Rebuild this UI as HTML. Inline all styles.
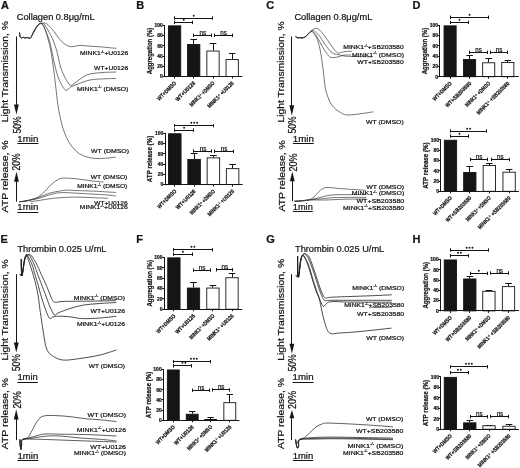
<!DOCTYPE html>
<html><head><meta charset="utf-8"><style>
html,body{margin:0;padding:0;background:#fff;}
svg{display:block;will-change:transform;}
text{font-family:"Liberation Sans", sans-serif;fill:#141414;stroke:#141414;stroke-width:0.22px;}
</style></head><body>
<svg width="520" height="468" viewBox="0 0 520 468">
<rect width="520" height="468" fill="#fff"/>
<rect x="168.45" y="25.85" width="12.3" height="50.65" fill="#151515" stroke="#141414" stroke-width="0.9"/>
<line x1="193.5" y1="44" x2="193.5" y2="39.71" stroke="#141414" stroke-width="1.0"/>
<line x1="190.4" y1="39.5" x2="197" y2="39.5" stroke="#141414" stroke-width="1.0"/>
<rect x="187.55" y="44.45" width="12.3" height="32.05" fill="#151515" stroke="#141414" stroke-width="0.9"/>
<line x1="213.5" y1="50.59" x2="213.5" y2="43.28" stroke="#141414" stroke-width="1.0"/>
<line x1="209.7" y1="43.5" x2="216.3" y2="43.5" stroke="#141414" stroke-width="1.0"/>
<rect x="206.85" y="51.04" width="12.3" height="25.46" fill="#fff" stroke="#141414" stroke-width="0.9"/>
<line x1="232.5" y1="59.13" x2="232.5" y2="53.5" stroke="#141414" stroke-width="1.0"/>
<line x1="228.9" y1="53.5" x2="235.5" y2="53.5" stroke="#141414" stroke-width="1.0"/>
<rect x="226.05" y="59.58" width="12.3" height="16.92" fill="#fff" stroke="#141414" stroke-width="0.9"/>
<line x1="164.5" y1="25" x2="164.5" y2="76.95" stroke="#141414" stroke-width="1.0"/>
<line x1="164.15" y1="76.5" x2="242.4" y2="76.5" stroke="#141414" stroke-width="1.0"/>
<line x1="162.6" y1="76.5" x2="164.6" y2="76.5" stroke="#141414" stroke-width="1.0"/>
<text x="162.8" y="78.3" font-size="5.0" font-weight="bold" text-anchor="end">0</text>
<line x1="162.6" y1="66.5" x2="164.6" y2="66.5" stroke="#141414" stroke-width="1.0"/>
<text x="162.8" y="68.08" font-size="5.0" font-weight="bold" text-anchor="end">20</text>
<line x1="162.6" y1="56.5" x2="164.6" y2="56.5" stroke="#141414" stroke-width="1.0"/>
<text x="162.8" y="57.86" font-size="5.0" font-weight="bold" text-anchor="end">40</text>
<line x1="162.6" y1="45.5" x2="164.6" y2="45.5" stroke="#141414" stroke-width="1.0"/>
<text x="162.8" y="47.64" font-size="5.0" font-weight="bold" text-anchor="end">60</text>
<line x1="162.6" y1="35.5" x2="164.6" y2="35.5" stroke="#141414" stroke-width="1.0"/>
<text x="162.8" y="37.42" font-size="5.0" font-weight="bold" text-anchor="end">80</text>
<line x1="162.6" y1="25.5" x2="164.6" y2="25.5" stroke="#141414" stroke-width="1.0"/>
<text x="162.8" y="27.2" font-size="5.0" font-weight="bold" text-anchor="end">100</text>
<line x1="174.5" y1="76.5" x2="174.5" y2="78.5" stroke="#141414" stroke-width="1.0"/>
<line x1="193.5" y1="76.5" x2="193.5" y2="78.5" stroke="#141414" stroke-width="1.0"/>
<line x1="213.5" y1="76.5" x2="213.5" y2="78.5" stroke="#141414" stroke-width="1.0"/>
<line x1="232.5" y1="76.5" x2="232.5" y2="78.5" stroke="#141414" stroke-width="1.0"/>
<text x="152" y="74.2" font-size="6.6" font-weight="bold" textLength="46.5" lengthAdjust="spacingAndGlyphs" transform="rotate(-90 152 74.2)">Aggregation (%)</text>
<text x="176.6" y="83.6" font-size="5.6" font-weight="bold" text-anchor="end" textLength="24.5" lengthAdjust="spacingAndGlyphs" transform="rotate(-45 176.6 83.6)">WT+DMSO</text>
<text x="195.7" y="83.6" font-size="5.6" font-weight="bold" text-anchor="end" textLength="25.5" lengthAdjust="spacingAndGlyphs" transform="rotate(-45 195.7 83.6)">WT+U0126</text>
<text x="215" y="83.6" font-size="5.6" font-weight="bold" text-anchor="end" textLength="33" lengthAdjust="spacingAndGlyphs" transform="rotate(-45 215 83.6)">MINK1<tspan font-size="3" dy="-1.6">-/-</tspan><tspan dy="1.6"> </tspan>+DMSO</text>
<text x="234.2" y="83.6" font-size="5.6" font-weight="bold" text-anchor="end" textLength="35" lengthAdjust="spacingAndGlyphs" transform="rotate(-45 234.2 83.6)">MINK1<tspan font-size="3" dy="-1.6">-/-</tspan><tspan dy="1.6"> </tspan>+U0126</text>
<line x1="174.6" y1="22.5" x2="192.9" y2="22.5" stroke="#141414" stroke-width="1.0"/>
<line x1="174.5" y1="20.7" x2="174.5" y2="24.1" stroke="#141414" stroke-width="1.0"/>
<line x1="192.5" y1="20.7" x2="192.5" y2="24.1" stroke="#141414" stroke-width="1.0"/>
<circle cx="183.75" cy="19.8" r="0.95" fill="#141414"/>
<line x1="174.6" y1="18.5" x2="212.8" y2="18.5" stroke="#141414" stroke-width="1.0"/>
<line x1="174.5" y1="16.3" x2="174.5" y2="19.7" stroke="#141414" stroke-width="1.0"/>
<line x1="212.5" y1="16.3" x2="212.5" y2="19.7" stroke="#141414" stroke-width="1.0"/>
<circle cx="193.7" cy="15.8" r="0.95" fill="#141414"/>
<line x1="193.9" y1="35.5" x2="211.2" y2="35.5" stroke="#141414" stroke-width="1.0"/>
<line x1="193.5" y1="33.6" x2="193.5" y2="37" stroke="#141414" stroke-width="1.0"/>
<line x1="211.5" y1="33.6" x2="211.5" y2="37" stroke="#141414" stroke-width="1.0"/>
<text x="202.75" y="34.8" font-size="6.6" text-anchor="middle" textLength="6.6" lengthAdjust="spacingAndGlyphs">ns</text>
<line x1="214.4" y1="35.5" x2="232.3" y2="35.5" stroke="#141414" stroke-width="1.0"/>
<line x1="214.5" y1="33.6" x2="214.5" y2="37" stroke="#141414" stroke-width="1.0"/>
<line x1="232.5" y1="33.6" x2="232.5" y2="37" stroke="#141414" stroke-width="1.0"/>
<text x="223.55" y="34.8" font-size="6.6" text-anchor="middle" textLength="6.6" lengthAdjust="spacingAndGlyphs">ns</text>
<rect x="168.55" y="133.75" width="12.5" height="50.85" fill="#151515" stroke="#141414" stroke-width="0.9"/>
<line x1="194.5" y1="158.95" x2="194.5" y2="153.82" stroke="#141414" stroke-width="1.0"/>
<line x1="190.75" y1="153.5" x2="197.45" y2="153.5" stroke="#141414" stroke-width="1.0"/>
<rect x="187.85" y="159.4" width="12.5" height="25.2" fill="#151515" stroke="#141414" stroke-width="0.9"/>
<line x1="213.5" y1="157.41" x2="213.5" y2="155.87" stroke="#141414" stroke-width="1.0"/>
<line x1="210.05" y1="155.5" x2="216.75" y2="155.5" stroke="#141414" stroke-width="1.0"/>
<rect x="207.15" y="157.86" width="12.5" height="26.74" fill="#fff" stroke="#141414" stroke-width="0.9"/>
<line x1="232.5" y1="168.18" x2="232.5" y2="164.08" stroke="#141414" stroke-width="1.0"/>
<line x1="229.25" y1="164.5" x2="235.95" y2="164.5" stroke="#141414" stroke-width="1.0"/>
<rect x="226.35" y="168.63" width="12.5" height="15.97" fill="#fff" stroke="#141414" stroke-width="0.9"/>
<line x1="165.5" y1="132.9" x2="165.5" y2="185.05" stroke="#141414" stroke-width="1.0"/>
<line x1="164.65" y1="184.5" x2="242.6" y2="184.5" stroke="#141414" stroke-width="1.0"/>
<line x1="163.1" y1="184.5" x2="165.1" y2="184.5" stroke="#141414" stroke-width="1.0"/>
<text x="163.3" y="186.4" font-size="5.0" font-weight="bold" text-anchor="end">0</text>
<line x1="163.1" y1="174.5" x2="165.1" y2="174.5" stroke="#141414" stroke-width="1.0"/>
<text x="163.3" y="176.14" font-size="5.0" font-weight="bold" text-anchor="end">20</text>
<line x1="163.1" y1="164.5" x2="165.1" y2="164.5" stroke="#141414" stroke-width="1.0"/>
<text x="163.3" y="165.88" font-size="5.0" font-weight="bold" text-anchor="end">40</text>
<line x1="163.1" y1="153.5" x2="165.1" y2="153.5" stroke="#141414" stroke-width="1.0"/>
<text x="163.3" y="155.62" font-size="5.0" font-weight="bold" text-anchor="end">60</text>
<line x1="163.1" y1="143.5" x2="165.1" y2="143.5" stroke="#141414" stroke-width="1.0"/>
<text x="163.3" y="145.36" font-size="5.0" font-weight="bold" text-anchor="end">80</text>
<line x1="163.1" y1="133.5" x2="165.1" y2="133.5" stroke="#141414" stroke-width="1.0"/>
<text x="163.3" y="135.1" font-size="5.0" font-weight="bold" text-anchor="end">100</text>
<line x1="174.5" y1="184.6" x2="174.5" y2="186.6" stroke="#141414" stroke-width="1.0"/>
<line x1="194.5" y1="184.6" x2="194.5" y2="186.6" stroke="#141414" stroke-width="1.0"/>
<line x1="213.5" y1="184.6" x2="213.5" y2="186.6" stroke="#141414" stroke-width="1.0"/>
<line x1="232.5" y1="184.6" x2="232.5" y2="186.6" stroke="#141414" stroke-width="1.0"/>
<text x="152.5" y="182.2" font-size="6.6" font-weight="bold" textLength="46.5" lengthAdjust="spacingAndGlyphs" transform="rotate(-90 152.5 182.2)">ATP release (%)</text>
<text x="176.8" y="191.7" font-size="5.6" font-weight="bold" text-anchor="end" textLength="24.5" lengthAdjust="spacingAndGlyphs" transform="rotate(-45 176.8 191.7)">WT+DMSO</text>
<text x="196.1" y="191.7" font-size="5.6" font-weight="bold" text-anchor="end" textLength="25.5" lengthAdjust="spacingAndGlyphs" transform="rotate(-45 196.1 191.7)">WT+U0126</text>
<text x="215.4" y="191.7" font-size="5.6" font-weight="bold" text-anchor="end" textLength="33" lengthAdjust="spacingAndGlyphs" transform="rotate(-45 215.4 191.7)">MINK1<tspan font-size="3" dy="-1.6">-/-</tspan><tspan dy="1.6"> </tspan>+DMSO</text>
<text x="234.6" y="191.7" font-size="5.6" font-weight="bold" text-anchor="end" textLength="35" lengthAdjust="spacingAndGlyphs" transform="rotate(-45 234.6 191.7)">MINK1<tspan font-size="3" dy="-1.6">-/-</tspan><tspan dy="1.6"> </tspan>+U0126</text>
<line x1="174.9" y1="130.5" x2="193.3" y2="130.5" stroke="#141414" stroke-width="1.0"/>
<line x1="174.5" y1="128.4" x2="174.5" y2="131.8" stroke="#141414" stroke-width="1.0"/>
<line x1="193.5" y1="128.4" x2="193.5" y2="131.8" stroke="#141414" stroke-width="1.0"/>
<circle cx="184.1" cy="127.8" r="0.95" fill="#141414"/>
<line x1="174.9" y1="125.5" x2="213.5" y2="125.5" stroke="#141414" stroke-width="1.0"/>
<line x1="174.5" y1="124" x2="174.5" y2="127.4" stroke="#141414" stroke-width="1.0"/>
<line x1="213.5" y1="124" x2="213.5" y2="127.4" stroke="#141414" stroke-width="1.0"/>
<circle cx="191.3" cy="122.8" r="0.95" fill="#141414"/>
<circle cx="194.2" cy="122.8" r="0.95" fill="#141414"/>
<circle cx="197.1" cy="122.8" r="0.95" fill="#141414"/>
<line x1="193.8" y1="151.5" x2="211.9" y2="151.5" stroke="#141414" stroke-width="1.0"/>
<line x1="193.5" y1="149.3" x2="193.5" y2="152.7" stroke="#141414" stroke-width="1.0"/>
<line x1="211.5" y1="149.3" x2="211.5" y2="152.7" stroke="#141414" stroke-width="1.0"/>
<text x="203.05" y="150.8" font-size="6.6" text-anchor="middle" textLength="6.6" lengthAdjust="spacingAndGlyphs">ns</text>
<line x1="214.6" y1="151.5" x2="233" y2="151.5" stroke="#141414" stroke-width="1.0"/>
<line x1="214.5" y1="149.7" x2="214.5" y2="153.1" stroke="#141414" stroke-width="1.0"/>
<line x1="233.5" y1="149.7" x2="233.5" y2="153.1" stroke="#141414" stroke-width="1.0"/>
<text x="224" y="150.8" font-size="6.6" text-anchor="middle" textLength="6.6" lengthAdjust="spacingAndGlyphs">ns</text>
<rect x="444.05" y="25.85" width="12.1" height="50.85" fill="#151515" stroke="#141414" stroke-width="0.9"/>
<line x1="469.5" y1="59" x2="469.5" y2="55.92" stroke="#141414" stroke-width="1.0"/>
<line x1="466.35" y1="55.5" x2="472.85" y2="55.5" stroke="#141414" stroke-width="1.0"/>
<rect x="463.55" y="59.45" width="12.1" height="17.25" fill="#151515" stroke="#141414" stroke-width="0.9"/>
<line x1="488.5" y1="62.34" x2="488.5" y2="58.49" stroke="#141414" stroke-width="1.0"/>
<line x1="485.45" y1="58.5" x2="491.95" y2="58.5" stroke="#141414" stroke-width="1.0"/>
<rect x="482.65" y="62.79" width="12.1" height="13.91" fill="#fff" stroke="#141414" stroke-width="0.9"/>
<line x1="507.5" y1="61.98" x2="507.5" y2="60.49" stroke="#141414" stroke-width="1.0"/>
<line x1="504.55" y1="60.5" x2="511.05" y2="60.5" stroke="#141414" stroke-width="1.0"/>
<rect x="501.75" y="62.43" width="12.1" height="14.27" fill="#fff" stroke="#141414" stroke-width="0.9"/>
<line x1="439.5" y1="25" x2="439.5" y2="77.15" stroke="#141414" stroke-width="1.0"/>
<line x1="439.45" y1="76.5" x2="518.8" y2="76.5" stroke="#141414" stroke-width="1.0"/>
<line x1="437.9" y1="76.5" x2="439.9" y2="76.5" stroke="#141414" stroke-width="1.0"/>
<text x="438.1" y="78.5" font-size="5.0" font-weight="bold" text-anchor="end">0</text>
<line x1="437.9" y1="66.5" x2="439.9" y2="66.5" stroke="#141414" stroke-width="1.0"/>
<text x="438.1" y="68.24" font-size="5.0" font-weight="bold" text-anchor="end">20</text>
<line x1="437.9" y1="56.5" x2="439.9" y2="56.5" stroke="#141414" stroke-width="1.0"/>
<text x="438.1" y="57.98" font-size="5.0" font-weight="bold" text-anchor="end">40</text>
<line x1="437.9" y1="45.5" x2="439.9" y2="45.5" stroke="#141414" stroke-width="1.0"/>
<text x="438.1" y="47.72" font-size="5.0" font-weight="bold" text-anchor="end">60</text>
<line x1="437.9" y1="35.5" x2="439.9" y2="35.5" stroke="#141414" stroke-width="1.0"/>
<text x="438.1" y="37.46" font-size="5.0" font-weight="bold" text-anchor="end">80</text>
<line x1="437.9" y1="25.5" x2="439.9" y2="25.5" stroke="#141414" stroke-width="1.0"/>
<text x="438.1" y="27.2" font-size="5.0" font-weight="bold" text-anchor="end">100</text>
<line x1="450.5" y1="76.7" x2="450.5" y2="78.7" stroke="#141414" stroke-width="1.0"/>
<line x1="469.5" y1="76.7" x2="469.5" y2="78.7" stroke="#141414" stroke-width="1.0"/>
<line x1="488.5" y1="76.7" x2="488.5" y2="78.7" stroke="#141414" stroke-width="1.0"/>
<line x1="507.5" y1="76.7" x2="507.5" y2="78.7" stroke="#141414" stroke-width="1.0"/>
<text x="427.3" y="74.3" font-size="6.6" font-weight="bold" textLength="46.5" lengthAdjust="spacingAndGlyphs" transform="rotate(-90 427.3 74.3)">Aggregation (%)</text>
<text x="452.1" y="83.8" font-size="5.6" font-weight="bold" text-anchor="end" textLength="24.5" lengthAdjust="spacingAndGlyphs" transform="rotate(-45 452.1 83.8)">WT+DMSO</text>
<text x="471.6" y="83.8" font-size="5.6" font-weight="bold" text-anchor="end" textLength="34" lengthAdjust="spacingAndGlyphs" transform="rotate(-45 471.6 83.8)">WT+SB203580</text>
<text x="490.7" y="83.8" font-size="5.6" font-weight="bold" text-anchor="end" textLength="33" lengthAdjust="spacingAndGlyphs" transform="rotate(-45 490.7 83.8)">MINK1<tspan font-size="3" dy="-1.6">-/-</tspan><tspan dy="1.6"> </tspan>+DMSO</text>
<text x="509.8" y="83.8" font-size="5.6" font-weight="bold" text-anchor="end" textLength="44" lengthAdjust="spacingAndGlyphs" transform="rotate(-45 509.8 83.8)">MINK1<tspan font-size="3" dy="-1.6">-/-</tspan><tspan dy="1.6"> </tspan>+SB203580</text>
<line x1="450.5" y1="22.5" x2="468.5" y2="22.5" stroke="#141414" stroke-width="1.0"/>
<line x1="450.5" y1="20.7" x2="450.5" y2="24.1" stroke="#141414" stroke-width="1.0"/>
<line x1="468.5" y1="20.7" x2="468.5" y2="24.1" stroke="#141414" stroke-width="1.0"/>
<circle cx="459.5" cy="19.8" r="0.95" fill="#141414"/>
<line x1="450.5" y1="17.5" x2="488.6" y2="17.5" stroke="#141414" stroke-width="1.0"/>
<line x1="450.5" y1="15.6" x2="450.5" y2="19" stroke="#141414" stroke-width="1.0"/>
<line x1="488.5" y1="15.6" x2="488.5" y2="19" stroke="#141414" stroke-width="1.0"/>
<circle cx="469.55" cy="14.8" r="0.95" fill="#141414"/>
<line x1="469.7" y1="52.5" x2="487" y2="52.5" stroke="#141414" stroke-width="1.0"/>
<line x1="469.5" y1="50.6" x2="469.5" y2="54" stroke="#141414" stroke-width="1.0"/>
<line x1="487.5" y1="50.6" x2="487.5" y2="54" stroke="#141414" stroke-width="1.0"/>
<text x="478.55" y="51.8" font-size="6.6" text-anchor="middle" textLength="6.6" lengthAdjust="spacingAndGlyphs">ns</text>
<line x1="490.3" y1="52.5" x2="507.6" y2="52.5" stroke="#141414" stroke-width="1.0"/>
<line x1="490.5" y1="50.6" x2="490.5" y2="54" stroke="#141414" stroke-width="1.0"/>
<line x1="507.5" y1="50.6" x2="507.5" y2="54" stroke="#141414" stroke-width="1.0"/>
<text x="499.15" y="51.8" font-size="6.6" text-anchor="middle" textLength="6.6" lengthAdjust="spacingAndGlyphs">ns</text>
<rect x="444.35" y="140.25" width="12.3" height="51.05" fill="#151515" stroke="#141414" stroke-width="0.9"/>
<line x1="469.5" y1="171.99" x2="469.5" y2="166.22" stroke="#141414" stroke-width="1.0"/>
<line x1="466.5" y1="166.5" x2="473.1" y2="166.5" stroke="#141414" stroke-width="1.0"/>
<rect x="463.65" y="172.44" width="12.3" height="18.86" fill="#151515" stroke="#141414" stroke-width="0.9"/>
<line x1="489.5" y1="165.09" x2="489.5" y2="163.59" stroke="#141414" stroke-width="1.0"/>
<line x1="486" y1="163.5" x2="492.6" y2="163.5" stroke="#141414" stroke-width="1.0"/>
<rect x="483.15" y="165.54" width="12.3" height="25.76" fill="#fff" stroke="#141414" stroke-width="0.9"/>
<line x1="509.5" y1="171.73" x2="509.5" y2="169.88" stroke="#141414" stroke-width="1.0"/>
<line x1="505.8" y1="169.5" x2="512.4" y2="169.5" stroke="#141414" stroke-width="1.0"/>
<rect x="502.95" y="172.18" width="12.3" height="19.12" fill="#fff" stroke="#141414" stroke-width="0.9"/>
<line x1="440.5" y1="139.4" x2="440.5" y2="191.75" stroke="#141414" stroke-width="1.0"/>
<line x1="440.45" y1="191.5" x2="518.8" y2="191.5" stroke="#141414" stroke-width="1.0"/>
<line x1="438.9" y1="191.5" x2="440.9" y2="191.5" stroke="#141414" stroke-width="1.0"/>
<text x="439.1" y="193.1" font-size="5.0" font-weight="bold" text-anchor="end">0</text>
<line x1="438.9" y1="181.5" x2="440.9" y2="181.5" stroke="#141414" stroke-width="1.0"/>
<text x="439.1" y="182.8" font-size="5.0" font-weight="bold" text-anchor="end">20</text>
<line x1="438.9" y1="170.5" x2="440.9" y2="170.5" stroke="#141414" stroke-width="1.0"/>
<text x="439.1" y="172.5" font-size="5.0" font-weight="bold" text-anchor="end">40</text>
<line x1="438.9" y1="160.5" x2="440.9" y2="160.5" stroke="#141414" stroke-width="1.0"/>
<text x="439.1" y="162.2" font-size="5.0" font-weight="bold" text-anchor="end">60</text>
<line x1="438.9" y1="150.5" x2="440.9" y2="150.5" stroke="#141414" stroke-width="1.0"/>
<text x="439.1" y="151.9" font-size="5.0" font-weight="bold" text-anchor="end">80</text>
<line x1="438.9" y1="139.5" x2="440.9" y2="139.5" stroke="#141414" stroke-width="1.0"/>
<text x="439.1" y="141.6" font-size="5.0" font-weight="bold" text-anchor="end">100</text>
<line x1="450.5" y1="191.3" x2="450.5" y2="193.3" stroke="#141414" stroke-width="1.0"/>
<line x1="469.5" y1="191.3" x2="469.5" y2="193.3" stroke="#141414" stroke-width="1.0"/>
<line x1="489.5" y1="191.3" x2="489.5" y2="193.3" stroke="#141414" stroke-width="1.0"/>
<line x1="509.5" y1="191.3" x2="509.5" y2="193.3" stroke="#141414" stroke-width="1.0"/>
<text x="428.3" y="188.8" font-size="6.6" font-weight="bold" textLength="46.5" lengthAdjust="spacingAndGlyphs" transform="rotate(-90 428.3 188.8)">ATP release (%)</text>
<text x="452.5" y="198.4" font-size="5.6" font-weight="bold" text-anchor="end" textLength="24.5" lengthAdjust="spacingAndGlyphs" transform="rotate(-45 452.5 198.4)">WT+DMSO</text>
<text x="471.8" y="198.4" font-size="5.6" font-weight="bold" text-anchor="end" textLength="34" lengthAdjust="spacingAndGlyphs" transform="rotate(-45 471.8 198.4)">WT+SB203580</text>
<text x="491.3" y="198.4" font-size="5.6" font-weight="bold" text-anchor="end" textLength="33" lengthAdjust="spacingAndGlyphs" transform="rotate(-45 491.3 198.4)">MINK1<tspan font-size="3" dy="-1.6">-/-</tspan><tspan dy="1.6"> </tspan>+DMSO</text>
<text x="511.1" y="198.4" font-size="5.6" font-weight="bold" text-anchor="end" textLength="44" lengthAdjust="spacingAndGlyphs" transform="rotate(-45 511.1 198.4)">MINK1<tspan font-size="3" dy="-1.6">-/-</tspan><tspan dy="1.6"> </tspan>+SB203580</text>
<line x1="450.5" y1="136.5" x2="468.4" y2="136.5" stroke="#141414" stroke-width="1.0"/>
<line x1="450.5" y1="134.4" x2="450.5" y2="137.8" stroke="#141414" stroke-width="1.0"/>
<line x1="468.5" y1="134.4" x2="468.5" y2="137.8" stroke="#141414" stroke-width="1.0"/>
<circle cx="459.45" cy="133.8" r="0.95" fill="#141414"/>
<line x1="450.5" y1="131.5" x2="486.8" y2="131.5" stroke="#141414" stroke-width="1.0"/>
<line x1="450.5" y1="129.3" x2="450.5" y2="132.7" stroke="#141414" stroke-width="1.0"/>
<line x1="486.5" y1="129.3" x2="486.5" y2="132.7" stroke="#141414" stroke-width="1.0"/>
<circle cx="467.2" cy="128.8" r="0.95" fill="#141414"/>
<circle cx="470.1" cy="128.8" r="0.95" fill="#141414"/>
<line x1="470.2" y1="159.5" x2="487.7" y2="159.5" stroke="#141414" stroke-width="1.0"/>
<line x1="470.5" y1="157.7" x2="470.5" y2="161.1" stroke="#141414" stroke-width="1.0"/>
<line x1="487.5" y1="157.7" x2="487.5" y2="161.1" stroke="#141414" stroke-width="1.0"/>
<text x="479.15" y="158.8" font-size="6.6" text-anchor="middle" textLength="6.6" lengthAdjust="spacingAndGlyphs">ns</text>
<line x1="491.1" y1="159.5" x2="509.1" y2="159.5" stroke="#141414" stroke-width="1.0"/>
<line x1="491.5" y1="157.8" x2="491.5" y2="161.2" stroke="#141414" stroke-width="1.0"/>
<line x1="509.5" y1="157.8" x2="509.5" y2="161.2" stroke="#141414" stroke-width="1.0"/>
<text x="500.3" y="158.8" font-size="6.6" text-anchor="middle" textLength="6.6" lengthAdjust="spacingAndGlyphs">ns</text>
<rect x="167.75" y="257.85" width="12.3" height="51.35" fill="#151515" stroke="#141414" stroke-width="0.9"/>
<line x1="193.5" y1="287.6" x2="193.5" y2="282.42" stroke="#141414" stroke-width="1.0"/>
<line x1="190.2" y1="282.5" x2="196.8" y2="282.5" stroke="#141414" stroke-width="1.0"/>
<rect x="187.35" y="288.05" width="12.3" height="21.15" fill="#151515" stroke="#141414" stroke-width="0.9"/>
<line x1="212.5" y1="287.6" x2="212.5" y2="285.37" stroke="#141414" stroke-width="1.0"/>
<line x1="209.6" y1="285.5" x2="216.2" y2="285.5" stroke="#141414" stroke-width="1.0"/>
<rect x="206.75" y="288.05" width="12.3" height="21.15" fill="#fff" stroke="#141414" stroke-width="0.9"/>
<line x1="232.5" y1="277.29" x2="232.5" y2="273.3" stroke="#141414" stroke-width="1.0"/>
<line x1="228.7" y1="273.5" x2="235.3" y2="273.5" stroke="#141414" stroke-width="1.0"/>
<rect x="225.85" y="277.74" width="12.3" height="31.46" fill="#fff" stroke="#141414" stroke-width="0.9"/>
<line x1="164.5" y1="257" x2="164.5" y2="309.65" stroke="#141414" stroke-width="1.0"/>
<line x1="163.85" y1="309.5" x2="242.3" y2="309.5" stroke="#141414" stroke-width="1.0"/>
<line x1="162.3" y1="309.5" x2="164.3" y2="309.5" stroke="#141414" stroke-width="1.0"/>
<text x="162.5" y="311" font-size="5.0" font-weight="bold" text-anchor="end">0</text>
<line x1="162.3" y1="298.5" x2="164.3" y2="298.5" stroke="#141414" stroke-width="1.0"/>
<text x="162.5" y="300.64" font-size="5.0" font-weight="bold" text-anchor="end">20</text>
<line x1="162.3" y1="288.5" x2="164.3" y2="288.5" stroke="#141414" stroke-width="1.0"/>
<text x="162.5" y="290.28" font-size="5.0" font-weight="bold" text-anchor="end">40</text>
<line x1="162.3" y1="278.5" x2="164.3" y2="278.5" stroke="#141414" stroke-width="1.0"/>
<text x="162.5" y="279.92" font-size="5.0" font-weight="bold" text-anchor="end">60</text>
<line x1="162.3" y1="267.5" x2="164.3" y2="267.5" stroke="#141414" stroke-width="1.0"/>
<text x="162.5" y="269.56" font-size="5.0" font-weight="bold" text-anchor="end">80</text>
<line x1="162.3" y1="257.5" x2="164.3" y2="257.5" stroke="#141414" stroke-width="1.0"/>
<text x="162.5" y="259.2" font-size="5.0" font-weight="bold" text-anchor="end">100</text>
<line x1="173.5" y1="309.2" x2="173.5" y2="311.2" stroke="#141414" stroke-width="1.0"/>
<line x1="193.5" y1="309.2" x2="193.5" y2="311.2" stroke="#141414" stroke-width="1.0"/>
<line x1="212.5" y1="309.2" x2="212.5" y2="311.2" stroke="#141414" stroke-width="1.0"/>
<line x1="232.5" y1="309.2" x2="232.5" y2="311.2" stroke="#141414" stroke-width="1.0"/>
<text x="151.7" y="306.55" font-size="6.6" font-weight="bold" textLength="46.5" lengthAdjust="spacingAndGlyphs" transform="rotate(-90 151.7 306.55)">Aggregation (%)</text>
<text x="175.9" y="316.3" font-size="5.6" font-weight="bold" text-anchor="end" textLength="24.5" lengthAdjust="spacingAndGlyphs" transform="rotate(-45 175.9 316.3)">WT+DMSO</text>
<text x="195.5" y="316.3" font-size="5.6" font-weight="bold" text-anchor="end" textLength="25.5" lengthAdjust="spacingAndGlyphs" transform="rotate(-45 195.5 316.3)">WT+U0126</text>
<text x="214.9" y="316.3" font-size="5.6" font-weight="bold" text-anchor="end" textLength="33" lengthAdjust="spacingAndGlyphs" transform="rotate(-45 214.9 316.3)">MINK1<tspan font-size="3" dy="-1.6">-/-</tspan><tspan dy="1.6"> </tspan>+DMSO</text>
<text x="234" y="316.3" font-size="5.6" font-weight="bold" text-anchor="end" textLength="35" lengthAdjust="spacingAndGlyphs" transform="rotate(-45 234 316.3)">MINK1<tspan font-size="3" dy="-1.6">-/-</tspan><tspan dy="1.6"> </tspan>+U0126</text>
<line x1="173.6" y1="254.5" x2="192.2" y2="254.5" stroke="#141414" stroke-width="1.0"/>
<line x1="173.5" y1="252.5" x2="173.5" y2="255.9" stroke="#141414" stroke-width="1.0"/>
<line x1="192.5" y1="252.5" x2="192.5" y2="255.9" stroke="#141414" stroke-width="1.0"/>
<circle cx="182.9" cy="251.8" r="0.95" fill="#141414"/>
<line x1="173.6" y1="249.5" x2="212.2" y2="249.5" stroke="#141414" stroke-width="1.0"/>
<line x1="173.5" y1="248.1" x2="173.5" y2="251.5" stroke="#141414" stroke-width="1.0"/>
<line x1="212.5" y1="248.1" x2="212.5" y2="251.5" stroke="#141414" stroke-width="1.0"/>
<circle cx="191.45" cy="246.8" r="0.95" fill="#141414"/>
<circle cx="194.35" cy="246.8" r="0.95" fill="#141414"/>
<line x1="193.3" y1="270.5" x2="210.3" y2="270.5" stroke="#141414" stroke-width="1.0"/>
<line x1="193.5" y1="268.4" x2="193.5" y2="271.8" stroke="#141414" stroke-width="1.0"/>
<line x1="210.5" y1="268.4" x2="210.5" y2="271.8" stroke="#141414" stroke-width="1.0"/>
<text x="202" y="269.8" font-size="6.6" text-anchor="middle" textLength="6.6" lengthAdjust="spacingAndGlyphs">ns</text>
<line x1="216.9" y1="269.5" x2="232.2" y2="269.5" stroke="#141414" stroke-width="1.0"/>
<line x1="216.5" y1="268.1" x2="216.5" y2="271.5" stroke="#141414" stroke-width="1.0"/>
<line x1="232.5" y1="268.1" x2="232.5" y2="271.5" stroke="#141414" stroke-width="1.0"/>
<text x="224.75" y="268.8" font-size="6.6" text-anchor="middle" textLength="6.6" lengthAdjust="spacingAndGlyphs">ns</text>
<rect x="167.35" y="369.95" width="11.9" height="50.35" fill="#151515" stroke="#141414" stroke-width="0.9"/>
<line x1="192.5" y1="413.8" x2="192.5" y2="411.41" stroke="#141414" stroke-width="1.0"/>
<line x1="189" y1="411.5" x2="195.4" y2="411.5" stroke="#141414" stroke-width="1.0"/>
<rect x="186.25" y="414.25" width="11.9" height="6.05" fill="#151515" stroke="#141414" stroke-width="0.9"/>
<line x1="210.5" y1="419.03" x2="210.5" y2="417.91" stroke="#141414" stroke-width="1.0"/>
<line x1="207.4" y1="417.5" x2="213.8" y2="417.5" stroke="#141414" stroke-width="1.0"/>
<rect x="204.65" y="419.48" width="11.9" height="0.82" fill="#fff" stroke="#141414" stroke-width="0.9"/>
<line x1="229.5" y1="402.22" x2="229.5" y2="394.19" stroke="#141414" stroke-width="1.0"/>
<line x1="226.6" y1="394.5" x2="233" y2="394.5" stroke="#141414" stroke-width="1.0"/>
<rect x="223.85" y="402.67" width="11.9" height="17.63" fill="#fff" stroke="#141414" stroke-width="0.9"/>
<line x1="163.5" y1="369.1" x2="163.5" y2="420.75" stroke="#141414" stroke-width="1.0"/>
<line x1="163.05" y1="420.5" x2="239.4" y2="420.5" stroke="#141414" stroke-width="1.0"/>
<line x1="161.5" y1="420.5" x2="163.5" y2="420.5" stroke="#141414" stroke-width="1.0"/>
<text x="161.7" y="422.1" font-size="5.0" font-weight="bold" text-anchor="end">0</text>
<line x1="161.5" y1="410.5" x2="163.5" y2="410.5" stroke="#141414" stroke-width="1.0"/>
<text x="161.7" y="411.94" font-size="5.0" font-weight="bold" text-anchor="end">20</text>
<line x1="161.5" y1="399.5" x2="163.5" y2="399.5" stroke="#141414" stroke-width="1.0"/>
<text x="161.7" y="401.78" font-size="5.0" font-weight="bold" text-anchor="end">40</text>
<line x1="161.5" y1="389.5" x2="163.5" y2="389.5" stroke="#141414" stroke-width="1.0"/>
<text x="161.7" y="391.62" font-size="5.0" font-weight="bold" text-anchor="end">60</text>
<line x1="161.5" y1="379.5" x2="163.5" y2="379.5" stroke="#141414" stroke-width="1.0"/>
<text x="161.7" y="381.46" font-size="5.0" font-weight="bold" text-anchor="end">80</text>
<line x1="161.5" y1="369.5" x2="163.5" y2="369.5" stroke="#141414" stroke-width="1.0"/>
<text x="161.7" y="371.3" font-size="5.0" font-weight="bold" text-anchor="end">100</text>
<line x1="173.5" y1="420.3" x2="173.5" y2="422.3" stroke="#141414" stroke-width="1.0"/>
<line x1="192.5" y1="420.3" x2="192.5" y2="422.3" stroke="#141414" stroke-width="1.0"/>
<line x1="210.5" y1="420.3" x2="210.5" y2="422.3" stroke="#141414" stroke-width="1.0"/>
<line x1="229.5" y1="420.3" x2="229.5" y2="422.3" stroke="#141414" stroke-width="1.0"/>
<text x="150.9" y="418.15" font-size="6.6" font-weight="bold" textLength="46.5" lengthAdjust="spacingAndGlyphs" transform="rotate(-90 150.9 418.15)">ATP release (%)</text>
<text x="175.3" y="427.4" font-size="5.6" font-weight="bold" text-anchor="end" textLength="24.5" lengthAdjust="spacingAndGlyphs" transform="rotate(-45 175.3 427.4)">WT+DMSO</text>
<text x="194.2" y="427.4" font-size="5.6" font-weight="bold" text-anchor="end" textLength="25.5" lengthAdjust="spacingAndGlyphs" transform="rotate(-45 194.2 427.4)">WT+U0126</text>
<text x="212.6" y="427.4" font-size="5.6" font-weight="bold" text-anchor="end" textLength="33" lengthAdjust="spacingAndGlyphs" transform="rotate(-45 212.6 427.4)">MINK1<tspan font-size="3" dy="-1.6">-/-</tspan><tspan dy="1.6"> </tspan>+DMSO</text>
<text x="231.8" y="427.4" font-size="5.6" font-weight="bold" text-anchor="end" textLength="35" lengthAdjust="spacingAndGlyphs" transform="rotate(-45 231.8 427.4)">MINK1<tspan font-size="3" dy="-1.6">-/-</tspan><tspan dy="1.6"> </tspan>+U0126</text>
<line x1="173.5" y1="365.5" x2="191.4" y2="365.5" stroke="#141414" stroke-width="1.0"/>
<line x1="173.5" y1="364.2" x2="173.5" y2="367.6" stroke="#141414" stroke-width="1.0"/>
<line x1="191.5" y1="364.2" x2="191.5" y2="367.6" stroke="#141414" stroke-width="1.0"/>
<circle cx="182.5" cy="362.8" r="0.95" fill="#141414"/>
<circle cx="185.4" cy="362.8" r="0.95" fill="#141414"/>
<line x1="173.5" y1="361.5" x2="210.9" y2="361.5" stroke="#141414" stroke-width="1.0"/>
<line x1="173.5" y1="359.9" x2="173.5" y2="363.3" stroke="#141414" stroke-width="1.0"/>
<line x1="210.5" y1="359.9" x2="210.5" y2="363.3" stroke="#141414" stroke-width="1.0"/>
<circle cx="191" cy="358.8" r="0.95" fill="#141414"/>
<circle cx="193.9" cy="358.8" r="0.95" fill="#141414"/>
<circle cx="196.8" cy="358.8" r="0.95" fill="#141414"/>
<line x1="192.2" y1="390.5" x2="209.5" y2="390.5" stroke="#141414" stroke-width="1.0"/>
<line x1="192.5" y1="388.5" x2="192.5" y2="391.9" stroke="#141414" stroke-width="1.0"/>
<line x1="209.5" y1="388.5" x2="209.5" y2="391.9" stroke="#141414" stroke-width="1.0"/>
<text x="201.05" y="389.8" font-size="6.6" text-anchor="middle" textLength="6.6" lengthAdjust="spacingAndGlyphs">ns</text>
<line x1="212.5" y1="389.5" x2="229.5" y2="389.5" stroke="#141414" stroke-width="1.0"/>
<line x1="212.5" y1="388.2" x2="212.5" y2="391.6" stroke="#141414" stroke-width="1.0"/>
<line x1="229.5" y1="388.2" x2="229.5" y2="391.6" stroke="#141414" stroke-width="1.0"/>
<text x="221.2" y="388.8" font-size="6.6" text-anchor="middle" textLength="6.6" lengthAdjust="spacingAndGlyphs">ns</text>
<rect x="444.25" y="259.95" width="12.3" height="50.95" fill="#151515" stroke="#141414" stroke-width="0.9"/>
<line x1="469.5" y1="278.52" x2="469.5" y2="276.46" stroke="#141414" stroke-width="1.0"/>
<line x1="466.5" y1="276.5" x2="473.1" y2="276.5" stroke="#141414" stroke-width="1.0"/>
<rect x="463.65" y="278.97" width="12.3" height="31.93" fill="#151515" stroke="#141414" stroke-width="0.9"/>
<line x1="488.5" y1="290.85" x2="488.5" y2="290.34" stroke="#141414" stroke-width="1.0"/>
<line x1="485.6" y1="290.5" x2="492.2" y2="290.5" stroke="#141414" stroke-width="1.0"/>
<rect x="482.75" y="291.3" width="12.3" height="19.6" fill="#fff" stroke="#141414" stroke-width="0.9"/>
<line x1="508.5" y1="286.18" x2="508.5" y2="283.66" stroke="#141414" stroke-width="1.0"/>
<line x1="505.2" y1="283.5" x2="511.8" y2="283.5" stroke="#141414" stroke-width="1.0"/>
<rect x="502.35" y="286.63" width="12.3" height="24.27" fill="#fff" stroke="#141414" stroke-width="0.9"/>
<line x1="440.5" y1="259.1" x2="440.5" y2="311.35" stroke="#141414" stroke-width="1.0"/>
<line x1="440.05" y1="310.5" x2="519" y2="310.5" stroke="#141414" stroke-width="1.0"/>
<line x1="438.5" y1="310.5" x2="440.5" y2="310.5" stroke="#141414" stroke-width="1.0"/>
<text x="438.7" y="312.7" font-size="5.0" font-weight="bold" text-anchor="end">0</text>
<line x1="438.5" y1="300.5" x2="440.5" y2="300.5" stroke="#141414" stroke-width="1.0"/>
<text x="438.7" y="302.42" font-size="5.0" font-weight="bold" text-anchor="end">20</text>
<line x1="438.5" y1="290.5" x2="440.5" y2="290.5" stroke="#141414" stroke-width="1.0"/>
<text x="438.7" y="292.14" font-size="5.0" font-weight="bold" text-anchor="end">40</text>
<line x1="438.5" y1="280.5" x2="440.5" y2="280.5" stroke="#141414" stroke-width="1.0"/>
<text x="438.7" y="281.86" font-size="5.0" font-weight="bold" text-anchor="end">60</text>
<line x1="438.5" y1="269.5" x2="440.5" y2="269.5" stroke="#141414" stroke-width="1.0"/>
<text x="438.7" y="271.58" font-size="5.0" font-weight="bold" text-anchor="end">80</text>
<line x1="438.5" y1="259.5" x2="440.5" y2="259.5" stroke="#141414" stroke-width="1.0"/>
<text x="438.7" y="261.3" font-size="5.0" font-weight="bold" text-anchor="end">100</text>
<line x1="450.5" y1="310.9" x2="450.5" y2="312.9" stroke="#141414" stroke-width="1.0"/>
<line x1="469.5" y1="310.9" x2="469.5" y2="312.9" stroke="#141414" stroke-width="1.0"/>
<line x1="488.5" y1="310.9" x2="488.5" y2="312.9" stroke="#141414" stroke-width="1.0"/>
<line x1="508.5" y1="310.9" x2="508.5" y2="312.9" stroke="#141414" stroke-width="1.0"/>
<text x="427.9" y="308.45" font-size="6.6" font-weight="bold" textLength="46.5" lengthAdjust="spacingAndGlyphs" transform="rotate(-90 427.9 308.45)">Aggregation (%)</text>
<text x="452.4" y="318" font-size="5.6" font-weight="bold" text-anchor="end" textLength="24.5" lengthAdjust="spacingAndGlyphs" transform="rotate(-45 452.4 318)">WT+DMSO</text>
<text x="471.8" y="318" font-size="5.6" font-weight="bold" text-anchor="end" textLength="34" lengthAdjust="spacingAndGlyphs" transform="rotate(-45 471.8 318)">WT+SB203580</text>
<text x="490.9" y="318" font-size="5.6" font-weight="bold" text-anchor="end" textLength="33" lengthAdjust="spacingAndGlyphs" transform="rotate(-45 490.9 318)">MINK1<tspan font-size="3" dy="-1.6">-/-</tspan><tspan dy="1.6"> </tspan>+DMSO</text>
<text x="510.5" y="318" font-size="5.6" font-weight="bold" text-anchor="end" textLength="44" lengthAdjust="spacingAndGlyphs" transform="rotate(-45 510.5 318)">MINK1<tspan font-size="3" dy="-1.6">-/-</tspan><tspan dy="1.6"> </tspan>+SB203580</text>
<line x1="450.4" y1="255.5" x2="468.6" y2="255.5" stroke="#141414" stroke-width="1.0"/>
<line x1="450.5" y1="254.1" x2="450.5" y2="257.5" stroke="#141414" stroke-width="1.0"/>
<line x1="468.5" y1="254.1" x2="468.5" y2="257.5" stroke="#141414" stroke-width="1.0"/>
<circle cx="458.05" cy="252.8" r="0.95" fill="#141414"/>
<circle cx="460.95" cy="252.8" r="0.95" fill="#141414"/>
<line x1="450.4" y1="250.5" x2="488.7" y2="250.5" stroke="#141414" stroke-width="1.0"/>
<line x1="450.5" y1="248.3" x2="450.5" y2="251.7" stroke="#141414" stroke-width="1.0"/>
<line x1="488.5" y1="248.3" x2="488.5" y2="251.7" stroke="#141414" stroke-width="1.0"/>
<circle cx="466.65" cy="247.8" r="0.95" fill="#141414"/>
<circle cx="469.55" cy="247.8" r="0.95" fill="#141414"/>
<circle cx="472.45" cy="247.8" r="0.95" fill="#141414"/>
<line x1="470.3" y1="273.5" x2="487.4" y2="273.5" stroke="#141414" stroke-width="1.0"/>
<line x1="470.5" y1="271.7" x2="470.5" y2="275.1" stroke="#141414" stroke-width="1.0"/>
<line x1="487.5" y1="271.7" x2="487.5" y2="275.1" stroke="#141414" stroke-width="1.0"/>
<circle cx="478.85" cy="270.8" r="0.95" fill="#141414"/>
<line x1="490.8" y1="273.5" x2="508.2" y2="273.5" stroke="#141414" stroke-width="1.0"/>
<line x1="490.5" y1="271.3" x2="490.5" y2="274.7" stroke="#141414" stroke-width="1.0"/>
<line x1="508.5" y1="271.3" x2="508.5" y2="274.7" stroke="#141414" stroke-width="1.0"/>
<text x="499.7" y="272.8" font-size="6.6" text-anchor="middle" textLength="6.6" lengthAdjust="spacingAndGlyphs">ns</text>
<rect x="444.25" y="377.35" width="12.3" height="51.85" fill="#151515" stroke="#141414" stroke-width="0.9"/>
<line x1="469.5" y1="422.4" x2="469.5" y2="420.83" stroke="#141414" stroke-width="1.0"/>
<line x1="466.5" y1="420.5" x2="473.1" y2="420.5" stroke="#141414" stroke-width="1.0"/>
<rect x="463.65" y="422.85" width="12.3" height="6.35" fill="#151515" stroke="#141414" stroke-width="0.9"/>
<line x1="489.5" y1="425.28" x2="489.5" y2="425.02" stroke="#141414" stroke-width="1.0"/>
<line x1="485.7" y1="425.5" x2="492.3" y2="425.5" stroke="#141414" stroke-width="1.0"/>
<rect x="482.85" y="425.73" width="12.3" height="3.47" fill="#fff" stroke="#141414" stroke-width="0.9"/>
<line x1="509.5" y1="425.8" x2="509.5" y2="424.7" stroke="#141414" stroke-width="1.0"/>
<line x1="505.7" y1="424.5" x2="512.3" y2="424.5" stroke="#141414" stroke-width="1.0"/>
<rect x="502.85" y="426.25" width="12.3" height="2.95" fill="#fff" stroke="#141414" stroke-width="0.9"/>
<line x1="440.5" y1="376.5" x2="440.5" y2="429.65" stroke="#141414" stroke-width="1.0"/>
<line x1="440.35" y1="429.5" x2="519" y2="429.5" stroke="#141414" stroke-width="1.0"/>
<line x1="438.8" y1="429.5" x2="440.8" y2="429.5" stroke="#141414" stroke-width="1.0"/>
<text x="439" y="431" font-size="5.0" font-weight="bold" text-anchor="end">0</text>
<line x1="438.8" y1="418.5" x2="440.8" y2="418.5" stroke="#141414" stroke-width="1.0"/>
<text x="439" y="420.54" font-size="5.0" font-weight="bold" text-anchor="end">20</text>
<line x1="438.8" y1="408.5" x2="440.8" y2="408.5" stroke="#141414" stroke-width="1.0"/>
<text x="439" y="410.08" font-size="5.0" font-weight="bold" text-anchor="end">40</text>
<line x1="438.8" y1="397.5" x2="440.8" y2="397.5" stroke="#141414" stroke-width="1.0"/>
<text x="439" y="399.62" font-size="5.0" font-weight="bold" text-anchor="end">60</text>
<line x1="438.8" y1="387.5" x2="440.8" y2="387.5" stroke="#141414" stroke-width="1.0"/>
<text x="439" y="389.16" font-size="5.0" font-weight="bold" text-anchor="end">80</text>
<line x1="438.8" y1="376.5" x2="440.8" y2="376.5" stroke="#141414" stroke-width="1.0"/>
<text x="439" y="378.7" font-size="5.0" font-weight="bold" text-anchor="end">100</text>
<line x1="450.5" y1="429.2" x2="450.5" y2="431.2" stroke="#141414" stroke-width="1.0"/>
<line x1="469.5" y1="429.2" x2="469.5" y2="431.2" stroke="#141414" stroke-width="1.0"/>
<line x1="489.5" y1="429.2" x2="489.5" y2="431.2" stroke="#141414" stroke-width="1.0"/>
<line x1="509.5" y1="429.2" x2="509.5" y2="431.2" stroke="#141414" stroke-width="1.0"/>
<text x="428.2" y="426.3" font-size="6.6" font-weight="bold" textLength="46.5" lengthAdjust="spacingAndGlyphs" transform="rotate(-90 428.2 426.3)">ATP release (%)</text>
<text x="452.4" y="436.3" font-size="5.6" font-weight="bold" text-anchor="end" textLength="24.5" lengthAdjust="spacingAndGlyphs" transform="rotate(-45 452.4 436.3)">WT+DMSO</text>
<text x="471.8" y="436.3" font-size="5.6" font-weight="bold" text-anchor="end" textLength="34" lengthAdjust="spacingAndGlyphs" transform="rotate(-45 471.8 436.3)">WT+SB203580</text>
<text x="491" y="436.3" font-size="5.6" font-weight="bold" text-anchor="end" textLength="33" lengthAdjust="spacingAndGlyphs" transform="rotate(-45 491 436.3)">MINK1<tspan font-size="3" dy="-1.6">-/-</tspan><tspan dy="1.6"> </tspan>+DMSO</text>
<text x="511" y="436.3" font-size="5.6" font-weight="bold" text-anchor="end" textLength="44" lengthAdjust="spacingAndGlyphs" transform="rotate(-45 511 436.3)">MINK1<tspan font-size="3" dy="-1.6">-/-</tspan><tspan dy="1.6"> </tspan>+SB203580</text>
<line x1="450.4" y1="372.5" x2="468.3" y2="372.5" stroke="#141414" stroke-width="1.0"/>
<line x1="450.5" y1="370.9" x2="450.5" y2="374.3" stroke="#141414" stroke-width="1.0"/>
<line x1="468.5" y1="370.9" x2="468.5" y2="374.3" stroke="#141414" stroke-width="1.0"/>
<circle cx="457.9" cy="369.8" r="0.95" fill="#141414"/>
<circle cx="460.8" cy="369.8" r="0.95" fill="#141414"/>
<line x1="450.4" y1="366.5" x2="487.4" y2="366.5" stroke="#141414" stroke-width="1.0"/>
<line x1="450.5" y1="365.1" x2="450.5" y2="368.5" stroke="#141414" stroke-width="1.0"/>
<line x1="487.5" y1="365.1" x2="487.5" y2="368.5" stroke="#141414" stroke-width="1.0"/>
<circle cx="466" cy="363.8" r="0.95" fill="#141414"/>
<circle cx="468.9" cy="363.8" r="0.95" fill="#141414"/>
<circle cx="471.8" cy="363.8" r="0.95" fill="#141414"/>
<line x1="470.6" y1="416.5" x2="487.7" y2="416.5" stroke="#141414" stroke-width="1.0"/>
<line x1="470.5" y1="415" x2="470.5" y2="418.4" stroke="#141414" stroke-width="1.0"/>
<line x1="487.5" y1="415" x2="487.5" y2="418.4" stroke="#141414" stroke-width="1.0"/>
<text x="479.35" y="415.8" font-size="6.6" text-anchor="middle" textLength="6.6" lengthAdjust="spacingAndGlyphs">ns</text>
<line x1="490.8" y1="416.5" x2="508.7" y2="416.5" stroke="#141414" stroke-width="1.0"/>
<line x1="490.5" y1="414.8" x2="490.5" y2="418.2" stroke="#141414" stroke-width="1.0"/>
<line x1="508.5" y1="414.8" x2="508.5" y2="418.2" stroke="#141414" stroke-width="1.0"/>
<text x="499.95" y="415.8" font-size="6.6" text-anchor="middle" textLength="6.6" lengthAdjust="spacingAndGlyphs">ns</text>
<text x="0.9" y="9" font-size="11" font-weight="bold">A</text>
<text x="136.3" y="9" font-size="11" font-weight="bold">B</text>
<text x="266.2" y="9" font-size="11" font-weight="bold">C</text>
<text x="412.4" y="9" font-size="11" font-weight="bold">D</text>
<text x="0.5" y="243.4" font-size="11" font-weight="bold">E</text>
<text x="136.3" y="243.4" font-size="11" font-weight="bold">F</text>
<text x="266.2" y="243.4" font-size="11" font-weight="bold">G</text>
<text x="412.5" y="243.4" font-size="11" font-weight="bold">H</text>
<text x="16.8" y="19.7" font-size="9.3" textLength="77.8" lengthAdjust="spacingAndGlyphs">Collagen 0.8μg/mL</text>
<text x="8.1" y="122.3" font-size="9.6" textLength="101.2" lengthAdjust="spacingAndGlyphs" transform="rotate(-90 8.1 122.3)">Light Transmission, %</text>
<line x1="16.5" y1="36.5" x2="16.5" y2="104.9" stroke="#141414" stroke-width="1.0"/>
<path d="M14,104.4 L18.8,104.4 L16.4,114.6 Z" fill="#141414"/>
<text x="20.5" y="133.5" font-size="10" textLength="17.1" lengthAdjust="spacingAndGlyphs" transform="rotate(-90 20.5 133.5)">50%</text>
<text x="17.3" y="141.7" font-size="9" textLength="21" lengthAdjust="spacingAndGlyphs">1min</text>
<line x1="17.3" y1="143.5" x2="38.3" y2="143.5" stroke="#141414" stroke-width="1.0"/>
<text x="8.1" y="212.4" font-size="9.6" textLength="72.1" lengthAdjust="spacingAndGlyphs" transform="rotate(-90 8.1 212.4)">ATP release, %</text>
<line x1="16.5" y1="201.7" x2="16.5" y2="181.2" stroke="#141414" stroke-width="1.0"/>
<path d="M14.1,181.7 L18.9,181.7 L16.5,171.8 Z" fill="#141414"/>
<text x="20.5" y="170.6" font-size="10" textLength="17.1" lengthAdjust="spacingAndGlyphs" transform="rotate(-90 20.5 170.6)">20%</text>
<text x="17.3" y="210" font-size="9" textLength="21" lengthAdjust="spacingAndGlyphs">1min</text>
<line x1="17.3" y1="212.5" x2="38.3" y2="212.5" stroke="#141414" stroke-width="1.0"/>
<text x="294.4" y="20.3" font-size="9.3" textLength="77.9" lengthAdjust="spacingAndGlyphs">Collagen 0.8μg/mL</text>
<text x="283.7" y="122.6" font-size="9.6" textLength="101.3" lengthAdjust="spacingAndGlyphs" transform="rotate(-90 283.7 122.6)">Light Transmission, %</text>
<line x1="291.5" y1="36.5" x2="291.5" y2="105.7" stroke="#141414" stroke-width="1.0"/>
<path d="M289.4,105.2 L294.2,105.2 L291.8,115.4 Z" fill="#141414"/>
<text x="296.3" y="133.5" font-size="10" textLength="17.1" lengthAdjust="spacingAndGlyphs" transform="rotate(-90 296.3 133.5)">50%</text>
<text x="292.8" y="141.7" font-size="9" textLength="21" lengthAdjust="spacingAndGlyphs">1min</text>
<line x1="292.8" y1="143.5" x2="313.8" y2="143.5" stroke="#141414" stroke-width="1.0"/>
<text x="284.9" y="211.6" font-size="9.6" textLength="71.5" lengthAdjust="spacingAndGlyphs" transform="rotate(-90 284.9 211.6)">ATP release, %</text>
<line x1="292.5" y1="201.2" x2="292.5" y2="180.7" stroke="#141414" stroke-width="1.0"/>
<path d="M289.9,181.2 L294.7,181.2 L292.3,171.6 Z" fill="#141414"/>
<text x="296.7" y="171.4" font-size="10" textLength="17.9" lengthAdjust="spacingAndGlyphs" transform="rotate(-90 296.7 171.4)">20%</text>
<text x="292.8" y="209.6" font-size="9" textLength="20" lengthAdjust="spacingAndGlyphs">1min</text>
<line x1="292.8" y1="211.5" x2="312.8" y2="211.5" stroke="#141414" stroke-width="1.0"/>
<text x="17.4" y="251.8" font-size="9.3" textLength="89.1" lengthAdjust="spacingAndGlyphs">Thrombin 0.025 U/mL</text>
<text x="8.1" y="360.5" font-size="9.6" textLength="101.1" lengthAdjust="spacingAndGlyphs" transform="rotate(-90 8.1 360.5)">Light Transmission, %</text>
<line x1="16.5" y1="274.2" x2="16.5" y2="343" stroke="#141414" stroke-width="1.0"/>
<path d="M13.9,342.5 L18.7,342.5 L16.3,352.6 Z" fill="#141414"/>
<text x="20.5" y="371.3" font-size="10" textLength="17.3" lengthAdjust="spacingAndGlyphs" transform="rotate(-90 20.5 371.3)">50%</text>
<text x="17.4" y="380" font-size="9" textLength="20.4" lengthAdjust="spacingAndGlyphs">1min</text>
<line x1="17.4" y1="382.5" x2="37.8" y2="382.5" stroke="#141414" stroke-width="1.0"/>
<text x="8.1" y="449.2" font-size="9.6" textLength="71.2" lengthAdjust="spacingAndGlyphs" transform="rotate(-90 8.1 449.2)">ATP release, %</text>
<line x1="16.5" y1="440.1" x2="16.5" y2="418.9" stroke="#141414" stroke-width="1.0"/>
<path d="M13.8,419.4 L18.6,419.4 L16.2,409.5 Z" fill="#141414"/>
<text x="21.1" y="408.6" font-size="10" textLength="17.4" lengthAdjust="spacingAndGlyphs" transform="rotate(-90 21.1 408.6)">20%</text>
<text x="17.4" y="458.5" font-size="9" textLength="20.9" lengthAdjust="spacingAndGlyphs">1min</text>
<line x1="17.4" y1="460.5" x2="38.3" y2="460.5" stroke="#141414" stroke-width="1.0"/>
<text x="295" y="251.8" font-size="9.3" textLength="89.2" lengthAdjust="spacingAndGlyphs">Thrombin 0.025 U/mL</text>
<text x="283.7" y="360.8" font-size="9.6" textLength="102" lengthAdjust="spacingAndGlyphs" transform="rotate(-90 283.7 360.8)">Light Transmission, %</text>
<line x1="291.5" y1="274.2" x2="291.5" y2="344.2" stroke="#141414" stroke-width="1.0"/>
<path d="M289.5,343.7 L294.3,343.7 L291.9,353.5 Z" fill="#141414"/>
<text x="296.4" y="371.5" font-size="10" textLength="17.3" lengthAdjust="spacingAndGlyphs" transform="rotate(-90 296.4 371.5)">50%</text>
<text x="292.6" y="380" font-size="9" textLength="21" lengthAdjust="spacingAndGlyphs">1min</text>
<line x1="292.6" y1="382.5" x2="313.6" y2="382.5" stroke="#141414" stroke-width="1.0"/>
<text x="283.7" y="449" font-size="9.6" textLength="71" lengthAdjust="spacingAndGlyphs" transform="rotate(-90 283.7 449)">ATP release, %</text>
<line x1="291.5" y1="440" x2="291.5" y2="417.7" stroke="#141414" stroke-width="1.0"/>
<path d="M289.5,418.2 L294.3,418.2 L291.9,410 Z" fill="#141414"/>
<text x="296" y="409.1" font-size="10" textLength="18.1" lengthAdjust="spacingAndGlyphs" transform="rotate(-90 296 409.1)">20%</text>
<text x="292.7" y="458.5" font-size="9" textLength="20.5" lengthAdjust="spacingAndGlyphs">1min</text>
<line x1="292.7" y1="460.5" x2="313.2" y2="460.5" stroke="#141414" stroke-width="1.0"/>
<path d="M19.5,32.5 C19.6,33.18 19.77,35.68 20.1,36.6 C20.43,37.52 21.02,37.9 21.5,38 C21.98,38.1 22.42,37.2 23,37.2 C23.58,37.2 24.33,37.97 25,38 C25.67,38.03 26.33,37.37 27,37.4 C27.67,37.43 28.37,38.17 29,38.2 C29.63,38.23 29.97,38.63 30.8,37.6 C31.63,36.57 32.88,33.93 34,32 C35.12,30.07 36.4,27.43 37.5,26 C38.6,24.57 39.45,23.23 40.6,23.4 C41.75,23.57 43.12,24.23 44.4,27 C45.68,29.77 47.25,36.17 48.3,40 C49.35,43.83 49.77,44.77 50.7,50 C51.63,55.23 52.9,63.9 53.9,71.4 C54.9,78.9 55.98,89.07 56.7,95 C57.42,100.93 57.45,102.52 58.2,107 C58.95,111.48 60.07,117.42 61.2,121.9 C62.33,126.38 63.63,130.4 65,133.9 C66.37,137.4 67.67,140.17 69.4,142.9 C71.13,145.63 73.4,148.32 75.4,150.3 C77.4,152.28 78.9,153.55 81.4,154.8 C83.9,156.05 87.4,157.17 90.4,157.8 C93.4,158.43 96.17,158.6 99.4,158.6 C102.63,158.6 107.07,158.05 109.8,157.8 C112.53,157.55 114.8,157.22 115.8,157.1" fill="none" stroke="#3a3a3a" stroke-width="0.7" stroke-linejoin="round"/>
<path d="M19.5,32.5 C19.6,33.18 19.77,35.68 20.1,36.6 C20.43,37.52 21.02,37.9 21.5,38 C21.98,38.1 22.42,37.2 23,37.2 C23.58,37.2 24.33,37.97 25,38 C25.67,38.03 26.33,37.37 27,37.4 C27.67,37.43 28.37,38.17 29,38.2 C29.63,38.23 29.97,38.72 30.8,37.6 C31.63,36.48 32.88,33.52 34,31.5 C35.12,29.48 36.28,26.87 37.5,25.5 C38.72,24.13 39.98,22.47 41.3,23.3 C42.62,24.13 44.08,27.7 45.4,30.5 C46.72,33.3 48.17,36.85 49.2,40.1 C50.23,43.35 50.63,45.68 51.6,50 C52.57,54.32 53.73,61 55,66 C56.27,71 57.43,76 59.2,80 C60.97,84 63.63,88.85 65.6,90 C67.57,91.15 69.03,87.87 71,86.9 C72.97,85.93 74.23,85.35 77.4,84.2 C80.57,83.05 85.4,80.9 90,80 C94.6,79.1 100.63,79.05 105,78.8 C109.37,78.55 114.33,78.55 116.2,78.5" fill="none" stroke="#3a3a3a" stroke-width="0.7" stroke-linejoin="round"/>
<path d="M19.5,32.5 C19.6,33.18 19.77,35.68 20.1,36.6 C20.43,37.52 21.02,37.9 21.5,38 C21.98,38.1 22.42,37.2 23,37.2 C23.58,37.2 24.33,37.97 25,38 C25.67,38.03 26.33,37.37 27,37.4 C27.67,37.43 28.37,38.17 29,38.2 C29.63,38.23 29.97,38.8 30.8,37.6 C31.63,36.4 32.8,33.13 34,31 C35.2,28.87 36.42,26.03 38,24.8 C39.58,23.57 41.63,22.33 43.5,23.6 C45.37,24.87 47.62,29.67 49.2,32.4 C50.78,35.13 51.7,36.78 53,40 C54.3,43.22 55.78,47.37 57,51.7 C58.22,56.03 59.03,61.83 60.3,66 C61.57,70.17 62.92,73.48 64.6,76.7 C66.28,79.92 68.62,84.32 70.4,85.3 C72.18,86.28 73.25,83.95 75.3,82.6 C77.35,81.25 80.25,78.63 82.7,77.2 C85.15,75.77 86.62,74.78 90,74 C93.38,73.22 98.63,72.83 103,72.5 C107.37,72.17 114,72.08 116.2,72" fill="none" stroke="#3a3a3a" stroke-width="0.7" stroke-linejoin="round"/>
<path d="M19.5,32.5 C19.6,33.18 19.77,35.68 20.1,36.6 C20.43,37.52 21.02,37.9 21.5,38 C21.98,38.1 22.42,37.2 23,37.2 C23.58,37.2 24.33,37.97 25,38 C25.67,38.03 26.33,37.37 27,37.4 C27.67,37.43 28.37,38.17 29,38.2 C29.63,38.23 29.97,38.83 30.8,37.6 C31.63,36.37 32.72,32.9 34,30.8 C35.28,28.7 37.17,26.23 38.5,25 C39.83,23.77 40.62,23.6 42,23.4 C43.38,23.2 44.8,22.45 46.8,23.8 C48.8,25.15 52,29.1 54,31.5 C56,33.9 57.03,36.12 58.8,38.2 C60.57,40.28 62.52,42.58 64.6,44 C66.68,45.42 68.73,46.47 71.3,46.7 C73.87,46.93 76.88,45.48 80,45.4 C83.12,45.32 86.67,45.97 90,46.2 C93.33,46.43 97,46.57 100,46.8 C103,47.03 105.3,47.35 108,47.6 C110.7,47.85 114.83,48.18 116.2,48.3" fill="none" stroke="#3a3a3a" stroke-width="0.7" stroke-linejoin="round"/>
<text x="80" y="55.4" font-size="6.2" textLength="48.3" lengthAdjust="spacingAndGlyphs">MINK1<tspan font-size="3.6" dy="-2.4">-/-</tspan><tspan dy="2.4">+U0126</tspan></text>
<text x="94.1" y="70.1" font-size="6.2" textLength="34.2" lengthAdjust="spacingAndGlyphs">WT+U0126</text>
<text x="77" y="90.6" font-size="6.2" textLength="51.3" lengthAdjust="spacingAndGlyphs">MINK1<tspan font-size="3.6" dy="-2.4">-/-</tspan><tspan dy="2.4"> (DMSO)</tspan></text>
<text x="91.1" y="153.3" font-size="6.2" textLength="37.9" lengthAdjust="spacingAndGlyphs">WT (DMSO)</text>
<path d="M19.4,201.7 C20.17,201.63 22.43,201.53 24,201.3 C25.57,201.07 26.45,201 28.8,200.3 C31.15,199.6 35.4,198.6 38.1,197.1 C40.8,195.6 42.7,193.52 45,191.3 C47.3,189.08 49.6,185.82 51.9,183.8 C54.2,181.78 56.87,180.15 58.8,179.2 C60.73,178.25 60.8,178.18 63.5,178.1 C66.2,178.02 70.07,178.22 75,178.7 C79.93,179.18 88.35,180.43 93.1,181 C97.85,181.57 101.77,181.92 103.5,182.1" fill="none" stroke="#3a3a3a" stroke-width="0.7" stroke-linejoin="round"/>
<path d="M19.4,201.7 C20.17,201.63 22.43,201.53 24,201.3 C25.57,201.07 26.45,200.9 28.8,200.3 C31.15,199.7 34.63,198.9 38.1,197.7 C41.57,196.5 46.15,194.17 49.6,193.1 C53.05,192.03 56.1,191.78 58.8,191.3 C61.5,190.82 63.1,190.33 65.8,190.2 C68.5,190.07 69.88,190.32 75,190.5 C80.12,190.68 89.63,190.97 96.5,191.3 C103.37,191.63 112.92,192.3 116.2,192.5" fill="none" stroke="#3a3a3a" stroke-width="0.7" stroke-linejoin="round"/>
<path d="M19.4,201.7 C20.17,201.63 22.43,201.53 24,201.3 C25.57,201.07 26.45,200.77 28.8,200.3 C31.15,199.83 34.25,199.52 38.1,198.5 C41.95,197.48 48.05,195.18 51.9,194.2 C55.75,193.22 57.35,192.78 61.2,192.6 C65.05,192.42 67.77,192.73 75,193.1 C82.23,193.47 97.73,194.32 104.6,194.8 C111.47,195.28 114.27,195.8 116.2,196" fill="none" stroke="#3a3a3a" stroke-width="0.7" stroke-linejoin="round"/>
<path d="M19.4,201.7 C20.17,201.63 22.43,201.53 24,201.3 C25.57,201.07 27.42,200.28 28.8,200.3 C30.18,200.32 28.83,201.65 32.3,201.4 C35.77,201.15 44.78,199.42 49.6,198.8 C54.42,198.18 56.97,197.98 61.2,197.7 C65.43,197.42 69.68,197.1 75,197.1 C80.32,197.1 87.6,197.5 93.1,197.7 C98.6,197.9 105.52,198.2 108,198.3" fill="none" stroke="#3a3a3a" stroke-width="0.7" stroke-linejoin="round"/>
<text x="90.8" y="178.5" font-size="6.2" textLength="36.5" lengthAdjust="spacingAndGlyphs">WT (DMSO)</text>
<text x="77.2" y="188.4" font-size="6.2" textLength="50.1" lengthAdjust="spacingAndGlyphs">MINK1<tspan font-size="3.6" dy="-2.4">-/-</tspan><tspan dy="2.4"> (DMSO)</tspan></text>
<text x="94.2" y="204.5" font-size="6.2" textLength="33.5" lengthAdjust="spacingAndGlyphs">WT+U0126</text>
<text x="79.8" y="209.2" font-size="6.2" textLength="47.9" lengthAdjust="spacingAndGlyphs">MINK1<tspan font-size="3.6" dy="-2.4">-/-</tspan><tspan dy="2.4">+U0126</tspan></text>
<path d="M295.6,36.2 C295.75,36.4 296.1,37.13 296.5,37.4 C296.9,37.67 297.42,37.77 298,37.8 C298.58,37.83 299.33,37.57 300,37.6 C300.67,37.63 301.33,38.03 302,38 C302.67,37.97 303.42,37.6 304,37.4 C304.58,37.2 304.83,37.37 305.5,36.8 C306.17,36.23 307,34.97 308,34 C309,33.03 310.42,30.92 311.5,31 C312.58,31.08 313.53,33.07 314.5,34.5 C315.47,35.93 316.35,37.02 317.3,39.6 C318.25,42.18 319.33,45.77 320.2,50 C321.07,54.23 321.87,60.5 322.5,65 C323.13,69.5 323.5,72.98 324,77 C324.5,81.02 324.65,85.27 325.5,89.1 C326.35,92.93 327.75,96.97 329.1,100 C330.45,103.03 331.63,105.18 333.6,107.3 C335.57,109.42 338.77,111.43 340.9,112.7 C343.03,113.97 343.67,114.65 346.4,114.9 C349.13,115.15 352.77,114.72 357.3,114.2 C361.83,113.68 370.88,112.2 373.6,111.8" fill="none" stroke="#3a3a3a" stroke-width="0.7" stroke-linejoin="round"/>
<path d="M295.6,36.2 C295.75,36.4 296.1,37.13 296.5,37.4 C296.9,37.67 297.42,37.77 298,37.8 C298.58,37.83 299.33,37.57 300,37.6 C300.67,37.63 301.33,38.03 302,38 C302.67,37.97 303.42,37.6 304,37.4 C304.58,37.2 304.83,37.37 305.5,36.8 C306.17,36.23 307,34.97 308,34 C309,33.03 310.78,31.47 311.5,31 C312.22,30.53 311.8,30.78 312.3,31.2 C312.8,31.62 313.67,32.48 314.5,33.5 C315.33,34.52 315.88,34.93 317.3,37.3 C318.72,39.67 321.27,44.82 323,47.7 C324.73,50.58 326.35,52.97 327.7,54.6 C329.05,56.23 329.38,57.12 331.1,57.5 C332.82,57.88 335.88,57.28 338,56.9 C340.12,56.52 341.63,55.52 343.8,55.2 C345.97,54.88 349.8,55.03 351,55" fill="none" stroke="#3a3a3a" stroke-width="0.7" stroke-linejoin="round"/>
<path d="M295.6,36.2 C295.75,36.4 296.1,37.13 296.5,37.4 C296.9,37.67 297.42,37.77 298,37.8 C298.58,37.83 299.33,37.57 300,37.6 C300.67,37.63 301.33,38.03 302,38 C302.67,37.97 303.42,37.6 304,37.4 C304.58,37.2 304.83,37.37 305.5,36.8 C306.17,36.23 307,34.97 308,34 C309,33.03 310.62,31.6 311.5,31 C312.38,30.4 312.55,30.15 313.3,30.4 C314.05,30.65 314.95,31.55 316,32.5 C317.05,33.45 317.85,33.77 319.6,36.1 C321.35,38.43 324.38,43.7 326.5,46.5 C328.62,49.3 330.38,51.55 332.3,52.9 C334.22,54.25 335.7,54.03 338,54.6 C340.3,55.17 343.77,55.98 346.1,56.3 C348.43,56.62 347.68,56.42 352,56.5 C356.32,56.58 368.67,56.75 372,56.8" fill="none" stroke="#3a3a3a" stroke-width="0.7" stroke-linejoin="round"/>
<path d="M295.6,36.2 C295.75,36.4 296.1,37.13 296.5,37.4 C296.9,37.67 297.42,37.77 298,37.8 C298.58,37.83 299.33,37.57 300,37.6 C300.67,37.63 301.33,38.03 302,38 C302.67,37.97 303.42,37.6 304,37.4 C304.58,37.2 304.83,37.37 305.5,36.8 C306.17,36.23 307,34.97 308,34 C309,33.03 310.58,31.8 311.5,31 C312.42,30.2 312.73,29.65 313.5,29.2 C314.27,28.75 315.18,28.25 316.1,28.3 C317.02,28.35 317.85,28.58 319,29.5 C320.15,30.42 321.37,31.73 323,33.8 C324.63,35.87 326.87,39.2 328.8,41.9 C330.73,44.6 333.07,48.17 334.6,50 C336.13,51.83 336.85,52.52 338,52.9 C339.15,53.28 340.17,52.53 341.5,52.3 C342.83,52.07 344.25,51.68 346,51.5 C347.75,51.32 351,51.25 352,51.2" fill="none" stroke="#3a3a3a" stroke-width="0.7" stroke-linejoin="round"/>
<text x="343.3" y="49.4" font-size="6.2" textLength="60.4" lengthAdjust="spacingAndGlyphs">MINK1<tspan font-size="3.6" dy="-2.4">-/-</tspan><tspan dy="2.4">+SB203580</tspan></text>
<text x="352" y="56.6" font-size="6.2" textLength="52.1" lengthAdjust="spacingAndGlyphs">MINK1<tspan font-size="3.6" dy="-2.4">-/-</tspan><tspan dy="2.4"> (DMSO)</tspan></text>
<text x="357.3" y="63.8" font-size="6.2" textLength="46.4" lengthAdjust="spacingAndGlyphs">WT+SB203580</text>
<text x="366" y="124.1" font-size="6.2" textLength="37.7" lengthAdjust="spacingAndGlyphs">WT (DMSO)</text>
<path d="M294.6,201.2 C295.5,201.17 297.68,201.2 300,201 C302.32,200.8 306.17,200.67 308.5,200 C310.83,199.33 312.25,198.42 314,197 C315.75,195.58 317.03,193.07 319,191.5 C320.97,189.93 322.3,188.08 325.8,187.6 C329.3,187.12 335.13,188.27 340,188.6 C344.87,188.93 350.63,189.3 355,189.6 C359.37,189.9 364.33,190.27 366.2,190.4" fill="none" stroke="#3a3a3a" stroke-width="0.7" stroke-linejoin="round"/>
<path d="M294.6,201.2 C295.5,201.17 297.68,201.2 300,201 C302.32,200.8 305.5,200.5 308.5,200 C311.5,199.5 314.17,198.83 318,198 C321.83,197.17 326.17,195.57 331.5,195 C336.83,194.43 344.22,194.68 350,194.6 C355.78,194.52 363.5,194.52 366.2,194.5" fill="none" stroke="#3a3a3a" stroke-width="0.7" stroke-linejoin="round"/>
<path d="M294.6,201.2 C295.5,201.17 297.68,201.2 300,201 C302.32,200.8 305.17,200.33 308.5,200 C311.83,199.67 315.58,199.4 320,199 C324.42,198.6 327.3,197.88 335,197.6 C342.7,197.32 361,197.35 366.2,197.3" fill="none" stroke="#3a3a3a" stroke-width="0.7" stroke-linejoin="round"/>
<path d="M294.6,201.2 C295.5,201.17 297.68,201.2 300,201 C302.32,200.8 304.33,200.17 308.5,200 C312.67,199.83 318.92,200.13 325,200 C331.08,199.87 338.13,199.37 345,199.2 C351.87,199.03 362.67,199.03 366.2,199" fill="none" stroke="#3a3a3a" stroke-width="0.7" stroke-linejoin="round"/>
<text x="366.2" y="188.8" font-size="6.2" textLength="38" lengthAdjust="spacingAndGlyphs">WT (DMSO)</text>
<text x="351.8" y="195" font-size="6.2" textLength="52.4" lengthAdjust="spacingAndGlyphs">MINK1<tspan font-size="3.6" dy="-2.4">-/-</tspan><tspan dy="2.4"> (DMSO)</tspan></text>
<text x="356.5" y="203.1" font-size="6.2" textLength="47.7" lengthAdjust="spacingAndGlyphs">WT+SB203580</text>
<text x="343.1" y="209.5" font-size="6.2" textLength="61.1" lengthAdjust="spacingAndGlyphs">MINK1<tspan font-size="3.6" dy="-2.4">-/-</tspan><tspan dy="2.4">+SB203580</tspan></text>
<path d="M19.6,273.8 C19.77,274 20.23,274.7 20.6,275 C20.97,275.3 21.6,275.5 21.8,275.6" fill="none" stroke="#3a3a3a" stroke-width="1.1" stroke-linejoin="round"/>
<path d="M21.3,259 C21.31,260.33 21.3,264.45 21.35,267 C21.4,269.55 21.48,272.87 21.6,274.3 C21.73,275.73 21.88,276.15 22.1,275.6 C22.32,275.05 22.55,273.43 22.9,271 C23.25,268.57 23.82,263.42 24.2,261 C24.58,258.58 24.82,257.6 25.2,256.5 C25.58,255.4 26.12,254.23 26.5,254.4 C26.88,254.57 26.9,255.73 27.5,257.5 C28.1,259.27 29.12,261.98 30.1,265 C31.08,268.02 32.42,272.22 33.4,275.6 C34.38,278.98 35.2,281.9 36,285.3 C36.8,288.7 37.53,291.88 38.2,296 C38.87,300.12 39.45,306 40,310 C40.55,314 40.87,315.83 41.5,320 C42.13,324.17 43,330.33 43.8,335 C44.6,339.67 45.05,344.67 46.3,348 C47.55,351.33 48.6,353 51.3,355 C54,357 57.72,359.42 62.5,360 C67.28,360.58 73.75,359.33 80,358.5 C86.25,357.67 93.95,356.42 100,355 C106.05,353.58 113.58,350.83 116.3,350" fill="none" stroke="#202020" stroke-width="0.8" stroke-linejoin="round"/>
<path d="M21.3,259 C21.31,260.33 21.3,264.45 21.35,267 C21.4,269.55 21.48,272.87 21.6,274.3 C21.73,275.73 21.88,276.15 22.1,275.6 C22.32,275.05 22.53,273.43 22.9,271 C23.27,268.57 23.87,263.42 24.3,261 C24.73,258.58 25.05,257.57 25.5,256.5 C25.95,255.43 26.58,254.62 27,254.6 C27.42,254.58 27.2,254.85 28,256.4 C28.8,257.95 30.63,260.87 31.8,263.9 C32.97,266.93 33.93,271.03 35,274.6 C36.07,278.17 37.13,281.57 38.2,285.3 C39.27,289.03 40.27,293.22 41.4,297 C42.53,300.78 43.67,304.48 45,308 C46.33,311.52 48.07,316.6 49.4,318.1 C50.73,319.6 51.52,317.32 53,317 C54.48,316.68 55.48,316.23 58.3,316.2 C61.12,316.17 65.87,316.4 69.9,316.8 C73.93,317.2 77.48,318.4 82.5,318.6 C87.52,318.8 94.37,318.38 100,318 C105.63,317.62 113.58,316.58 116.3,316.3" fill="none" stroke="#202020" stroke-width="0.8" stroke-linejoin="round"/>
<path d="M21.3,259 C21.31,260.33 21.3,264.45 21.35,267 C21.4,269.55 21.48,272.87 21.6,274.3 C21.73,275.73 21.88,276.15 22.1,275.6 C22.32,275.05 22.52,273.43 22.9,271 C23.28,268.57 23.92,263.42 24.4,261 C24.88,258.58 25.2,257.5 25.8,256.5 C26.4,255.5 27.37,255.15 28,255 C28.63,254.85 28.62,254.12 29.6,255.6 C30.58,257.08 32.47,260.57 33.9,263.9 C35.33,267.23 36.6,271.33 38.2,275.6 C39.8,279.87 42.08,285.77 43.5,289.5 C44.92,293.23 45.62,295.08 46.7,298 C47.78,300.92 48.7,304.15 50,307 C51.3,309.85 53.17,314.1 54.5,315.1 C55.83,316.1 55.42,314.1 58,313 C60.58,311.9 65.7,309.83 70,308.5 C74.3,307.17 78.8,305.83 83.8,305 C88.8,304.17 94.58,303.92 100,303.5 C105.42,303.08 113.58,302.67 116.3,302.5" fill="none" stroke="#202020" stroke-width="0.8" stroke-linejoin="round"/>
<path d="M21.3,259 C21.31,260.33 21.3,264.45 21.35,267 C21.4,269.55 21.48,272.87 21.6,274.3 C21.73,275.73 21.88,276.15 22.1,275.6 C22.32,275.05 22.5,273.43 22.9,271 C23.3,268.57 23.95,263.37 24.5,261 C25.05,258.63 25.53,257.83 26.2,256.8 C26.87,255.77 27.75,255.12 28.5,254.8 C29.25,254.48 29.45,253.57 30.7,254.9 C31.95,256.23 34.22,259.52 36,262.8 C37.78,266.08 39.62,270.68 41.4,274.6 C43.18,278.52 45.1,282.57 46.7,286.3 C48.3,290.03 49.95,294.55 51,297 C52.05,299.45 52.2,300.12 53,301 C53.8,301.88 54.3,302.22 55.8,302.3 C57.3,302.38 57.97,301.68 62,301.5 C66.03,301.32 73.67,301.28 80,301.2 C86.33,301.12 94,301.1 100,301 C106,300.9 113.33,300.67 116,300.6" fill="none" stroke="#202020" stroke-width="0.8" stroke-linejoin="round"/>
<text x="73.8" y="299.8" font-size="6.2" textLength="51.2" lengthAdjust="spacingAndGlyphs">MINK1<tspan font-size="3.6" dy="-2.4">-/-</tspan><tspan dy="2.4"> (DMSO)</tspan></text>
<text x="90.6" y="312.5" font-size="6.2" textLength="34.4" lengthAdjust="spacingAndGlyphs">WT+U0126</text>
<text x="76.9" y="326.3" font-size="6.2" textLength="48.1" lengthAdjust="spacingAndGlyphs">MINK1<tspan font-size="3.6" dy="-2.4">-/-</tspan><tspan dy="2.4">+U0126</tspan></text>
<text x="88.8" y="367.5" font-size="6.2" textLength="36.2" lengthAdjust="spacingAndGlyphs">WT (DMSO)</text>
<path d="M19.8,439.4 C19.87,440.33 20.02,443.33 20.2,445 C20.38,446.67 20.67,449.4 20.9,449.4 C21.13,449.4 21.38,446.62 21.6,445 C21.82,443.38 21.2,440.92 22.2,439.7 C23.2,438.48 25.97,439.2 27.6,437.7 C29.23,436.2 30.43,433.37 32,430.7 C33.57,428.03 35.07,424.15 37,421.7 C38.93,419.25 39.77,416.98 43.6,416 C47.43,415.02 55.02,415.62 60,415.8 C64.98,415.98 69.02,416.58 73.5,417.1 C77.98,417.62 82.42,418.45 86.9,418.9 C91.38,419.35 95.47,419.35 100.4,419.8 C105.33,420.25 113.82,421.3 116.5,421.6" fill="none" stroke="#282828" stroke-width="0.75" stroke-linejoin="round"/>
<path d="M19.8,439.4 C19.87,440.33 20.02,443.33 20.2,445 C20.38,446.67 20.67,449.4 20.9,449.4 C21.13,449.4 21.38,446.62 21.6,445 C21.82,443.38 20.8,440.92 22.2,439.7 C23.6,438.48 27.15,438.5 30,437.7 C32.85,436.9 36.52,435.53 39.3,434.9 C42.08,434.27 43.25,434.02 46.7,433.9 C50.15,433.78 53.3,434.08 60,434.2 C66.7,434.32 77.48,434.3 86.9,434.6 C96.32,434.9 111.57,435.77 116.5,436" fill="none" stroke="#282828" stroke-width="0.75" stroke-linejoin="round"/>
<path d="M19.8,439.4 C19.87,440.33 20.02,443.33 20.2,445 C20.38,446.67 20.67,449.4 20.9,449.4 C21.13,449.4 21.38,446.62 21.6,445 C21.82,443.38 20.47,440.83 22.2,439.7 C23.93,438.57 28.2,438.78 32,438.2 C35.8,437.62 40.33,436.57 45,436.2 C49.67,435.83 54.13,435.7 60,436 C65.87,436.3 73.47,437.45 80.2,438 C86.93,438.55 94.35,438.8 100.4,439.3 C106.45,439.8 113.82,440.72 116.5,441" fill="none" stroke="#282828" stroke-width="0.75" stroke-linejoin="round"/>
<path d="M19.8,439.4 C19.87,440.33 20.02,443.33 20.2,445 C20.38,446.67 20.67,449.4 20.9,449.4 C21.13,449.4 21.38,446.62 21.6,445 C21.82,443.38 19.97,440.67 22.2,439.7 C24.43,438.73 28.7,439.15 35,439.2 C41.3,439.25 51.35,439.7 60,440 C68.65,440.3 77.48,440.67 86.9,441 C96.32,441.33 111.57,441.83 116.5,442" fill="none" stroke="#282828" stroke-width="0.75" stroke-linejoin="round"/>
<text x="87.6" y="417.4" font-size="6.2" textLength="38.4" lengthAdjust="spacingAndGlyphs">WT (DMSO)</text>
<text x="76.8" y="431.6" font-size="6.2" textLength="49.2" lengthAdjust="spacingAndGlyphs">MINK1<tspan font-size="3.6" dy="-2.4">-/-</tspan><tspan dy="2.4">+U0126</tspan></text>
<text x="90.3" y="448.7" font-size="6.2" textLength="35.7" lengthAdjust="spacingAndGlyphs">WT+U0126</text>
<text x="74.1" y="455.1" font-size="6.2" textLength="51.9" lengthAdjust="spacingAndGlyphs">MINK1<tspan font-size="3.6" dy="-2.4">-/-</tspan><tspan dy="2.4"> (DMSO)</tspan></text>
<path d="M295.7,275 C295.88,275.2 296.38,275.88 296.8,276.2 C297.22,276.52 297.97,276.78 298.2,276.9" fill="none" stroke="#3a3a3a" stroke-width="1.1" stroke-linejoin="round"/>
<path d="M297.6,256 C297.61,257.67 297.6,262.83 297.65,266 C297.7,269.17 297.76,273.17 297.9,275 C298.04,276.83 298.27,277.5 298.5,277 C298.73,276.5 299,274.5 299.3,272 C299.6,269.5 299.95,264.42 300.3,262 C300.65,259.58 300.98,258.58 301.4,257.5 C301.82,256.42 302.33,255.58 302.8,255.5 C303.27,255.42 303.42,255.58 304.2,257 C304.98,258.42 306.12,260.17 307.5,264 C308.88,267.83 311.08,275.5 312.5,280 C313.92,284.5 314.88,287.88 316,291 C317.12,294.12 318.25,295.53 319.2,298.7 C320.15,301.87 320.9,306.45 321.7,310 C322.5,313.55 322.75,316.22 324,320 C325.25,323.78 326.53,330.53 329.2,332.7 C331.87,334.87 334.87,333.2 340,333 C345.13,332.8 351.42,332.32 360,331.5 C368.58,330.68 386.25,328.67 391.5,328.1" fill="none" stroke="#202020" stroke-width="0.8" stroke-linejoin="round"/>
<path d="M297.6,256 C297.61,257.67 297.6,262.83 297.65,266 C297.7,269.17 297.76,273.17 297.9,275 C298.04,276.83 298.27,277.5 298.5,277 C298.73,276.5 298.98,274.5 299.3,272 C299.62,269.5 300.03,264.5 300.4,262 C300.77,259.5 301.1,258.13 301.5,257 C301.9,255.87 302.35,255.33 302.8,255.2 C303.25,255.07 303.28,254.72 304.2,256.2 C305.12,257.68 306.77,260 308.3,264.1 C309.83,268.2 311.92,276.1 313.4,280.8 C314.88,285.5 315.92,288.67 317.2,292.3 C318.48,295.93 320.03,300.25 321.1,302.6 C322.17,304.95 322.53,306.4 323.6,306.4 C324.67,306.4 325.78,303.42 327.5,302.6 C329.22,301.78 330.98,301.6 333.9,301.5 C336.82,301.4 338.98,301.88 345,302 C351.02,302.12 362.2,302.17 370,302.2 C377.8,302.23 388.17,302.2 391.8,302.2" fill="none" stroke="#202020" stroke-width="0.8" stroke-linejoin="round"/>
<path d="M297.6,256 C297.61,257.67 297.6,262.83 297.65,266 C297.7,269.17 297.76,273.17 297.9,275 C298.04,276.83 298.27,277.5 298.5,277 C298.73,276.5 298.97,274.5 299.3,272 C299.63,269.5 300.08,264.58 300.5,262 C300.92,259.42 301.3,257.78 301.8,256.5 C302.3,255.22 302.97,254.68 303.5,254.3 C304.03,253.92 304.17,253.5 305,254.2 C305.83,254.9 307.03,255.45 308.5,258.5 C309.97,261.55 312.08,267.58 313.8,272.5 C315.52,277.42 317.35,283.83 318.8,288 C320.25,292.17 321.47,295.42 322.5,297.5 C323.53,299.58 323.75,300.03 325,300.5 C326.25,300.97 324.17,300.33 330,300.3 C335.83,300.27 349.7,300.3 360,300.3 C370.3,300.3 386.5,300.3 391.8,300.3" fill="none" stroke="#202020" stroke-width="0.8" stroke-linejoin="round"/>
<path d="M297.6,256 C297.61,257.67 297.6,262.83 297.65,266 C297.7,269.17 297.76,273.17 297.9,275 C298.04,276.83 298.27,277.5 298.5,277 C298.73,276.5 298.95,274.5 299.3,272 C299.65,269.5 300.15,264.67 300.6,262 C301.05,259.33 301.47,257.35 302,256 C302.53,254.65 303.18,254.27 303.8,253.9 C304.42,253.53 304.75,253.17 305.7,253.8 C306.65,254.43 308,254.7 309.5,257.7 C311,260.7 312.98,266.88 314.7,271.8 C316.42,276.72 318.32,283.13 319.8,287.2 C321.28,291.27 322.53,294.4 323.6,296.2 C324.67,298 325.13,297.82 326.2,298 C327.27,298.18 326.03,297.55 330,297.3 C333.97,297.05 343.33,296.75 350,296.5 C356.67,296.25 363.03,296.08 370,295.8 C376.97,295.52 388.17,294.97 391.8,294.8" fill="none" stroke="#202020" stroke-width="0.8" stroke-linejoin="round"/>
<path d="M369,307.3 C370.83,307.35 376.17,307.62 380,307.6 C383.83,307.58 390,307.27 392,307.2" fill="none" stroke="#3a3a3a" stroke-width="0.7" stroke-linejoin="round"/>
<text x="352.3" y="289.5" font-size="6.2" textLength="51.9" lengthAdjust="spacingAndGlyphs">MINK1<tspan font-size="3.6" dy="-2.4">-/-</tspan><tspan dy="2.4"> (DMSO)</tspan></text>
<text x="344.2" y="307.3" font-size="6.2" textLength="60" lengthAdjust="spacingAndGlyphs">MINK1<tspan font-size="3.6" dy="-2.4">-/-</tspan><tspan dy="2.4">+SB203580</tspan></text>
<text x="356.9" y="316.1" font-size="6.2" textLength="47.3" lengthAdjust="spacingAndGlyphs">WT+SB203580</text>
<text x="366.2" y="340.3" font-size="6.2" textLength="38" lengthAdjust="spacingAndGlyphs">WT (DMSO)</text>
<path d="M295.6,439.6 C295.77,440.67 296.27,444.62 296.6,446 C296.93,447.38 297.27,447.9 297.6,447.9 C297.93,447.9 298.32,447.35 298.6,446 C298.88,444.65 298.28,441.22 299.3,439.8 C300.32,438.38 302.92,438.72 304.7,437.5 C306.48,436.28 308.12,434.25 310,432.5 C311.88,430.75 314,428.42 316,427 C318,425.58 319.85,424.65 322,424 C324.15,423.35 322.57,423.02 328.9,423.1 C335.23,423.18 349.33,423.88 360,424.5 C370.67,425.12 387.42,426.42 392.9,426.8" fill="none" stroke="#282828" stroke-width="0.75" stroke-linejoin="round"/>
<path d="M295.6,439.6 C295.77,440.67 296.27,444.62 296.6,446 C296.93,447.38 297.27,447.9 297.6,447.9 C297.93,447.9 298.32,447.35 298.6,446 C298.88,444.65 297.4,441.17 299.3,439.8 C301.2,438.43 304.88,438.25 310,437.8 C315.12,437.35 321.67,437.15 330,437.1 C338.33,437.05 349.52,437.33 360,437.5 C370.48,437.67 387.42,438 392.9,438.1" fill="none" stroke="#282828" stroke-width="0.75" stroke-linejoin="round"/>
<path d="M295.6,439.6 C295.77,440.67 296.27,444.62 296.6,446 C296.93,447.38 297.27,447.9 297.6,447.9 C297.93,447.9 298.32,447.35 298.6,446 C298.88,444.65 297.07,441.05 299.3,439.8 C301.53,438.55 306.05,438.78 312,438.5 C317.95,438.22 327,438.1 335,438.1 C343,438.1 350.35,438.33 360,438.5 C369.65,438.67 387.42,439 392.9,439.1" fill="none" stroke="#282828" stroke-width="0.75" stroke-linejoin="round"/>
<path d="M295.6,439.6 C295.77,440.67 296.27,444.62 296.6,446 C296.93,447.38 297.27,447.9 297.6,447.9 C297.93,447.9 298.32,447.35 298.6,446 C298.88,444.65 296.57,440.95 299.3,439.8 C302.03,438.65 308.22,439.27 315,439.1 C321.78,438.93 327.02,438.7 340,438.8 C352.98,438.9 384.08,439.55 392.9,439.7" fill="none" stroke="#282828" stroke-width="0.75" stroke-linejoin="round"/>
<text x="365.9" y="420.6" font-size="6.2" textLength="37.5" lengthAdjust="spacingAndGlyphs">WT (DMSO)</text>
<text x="355.9" y="433.4" font-size="6.2" textLength="47.5" lengthAdjust="spacingAndGlyphs">WT+SB203580</text>
<text x="347.4" y="447.6" font-size="6.2" textLength="56" lengthAdjust="spacingAndGlyphs">MINK1<tspan font-size="3.6" dy="-2.4">-/-</tspan><tspan dy="2.4"> (DMSO)</tspan></text>
<text x="343.1" y="454.8" font-size="6.2" textLength="60.3" lengthAdjust="spacingAndGlyphs">MINK1<tspan font-size="3.6" dy="-2.4">-/-</tspan><tspan dy="2.4">+SB203580</tspan></text>
</svg>
</body></html>
